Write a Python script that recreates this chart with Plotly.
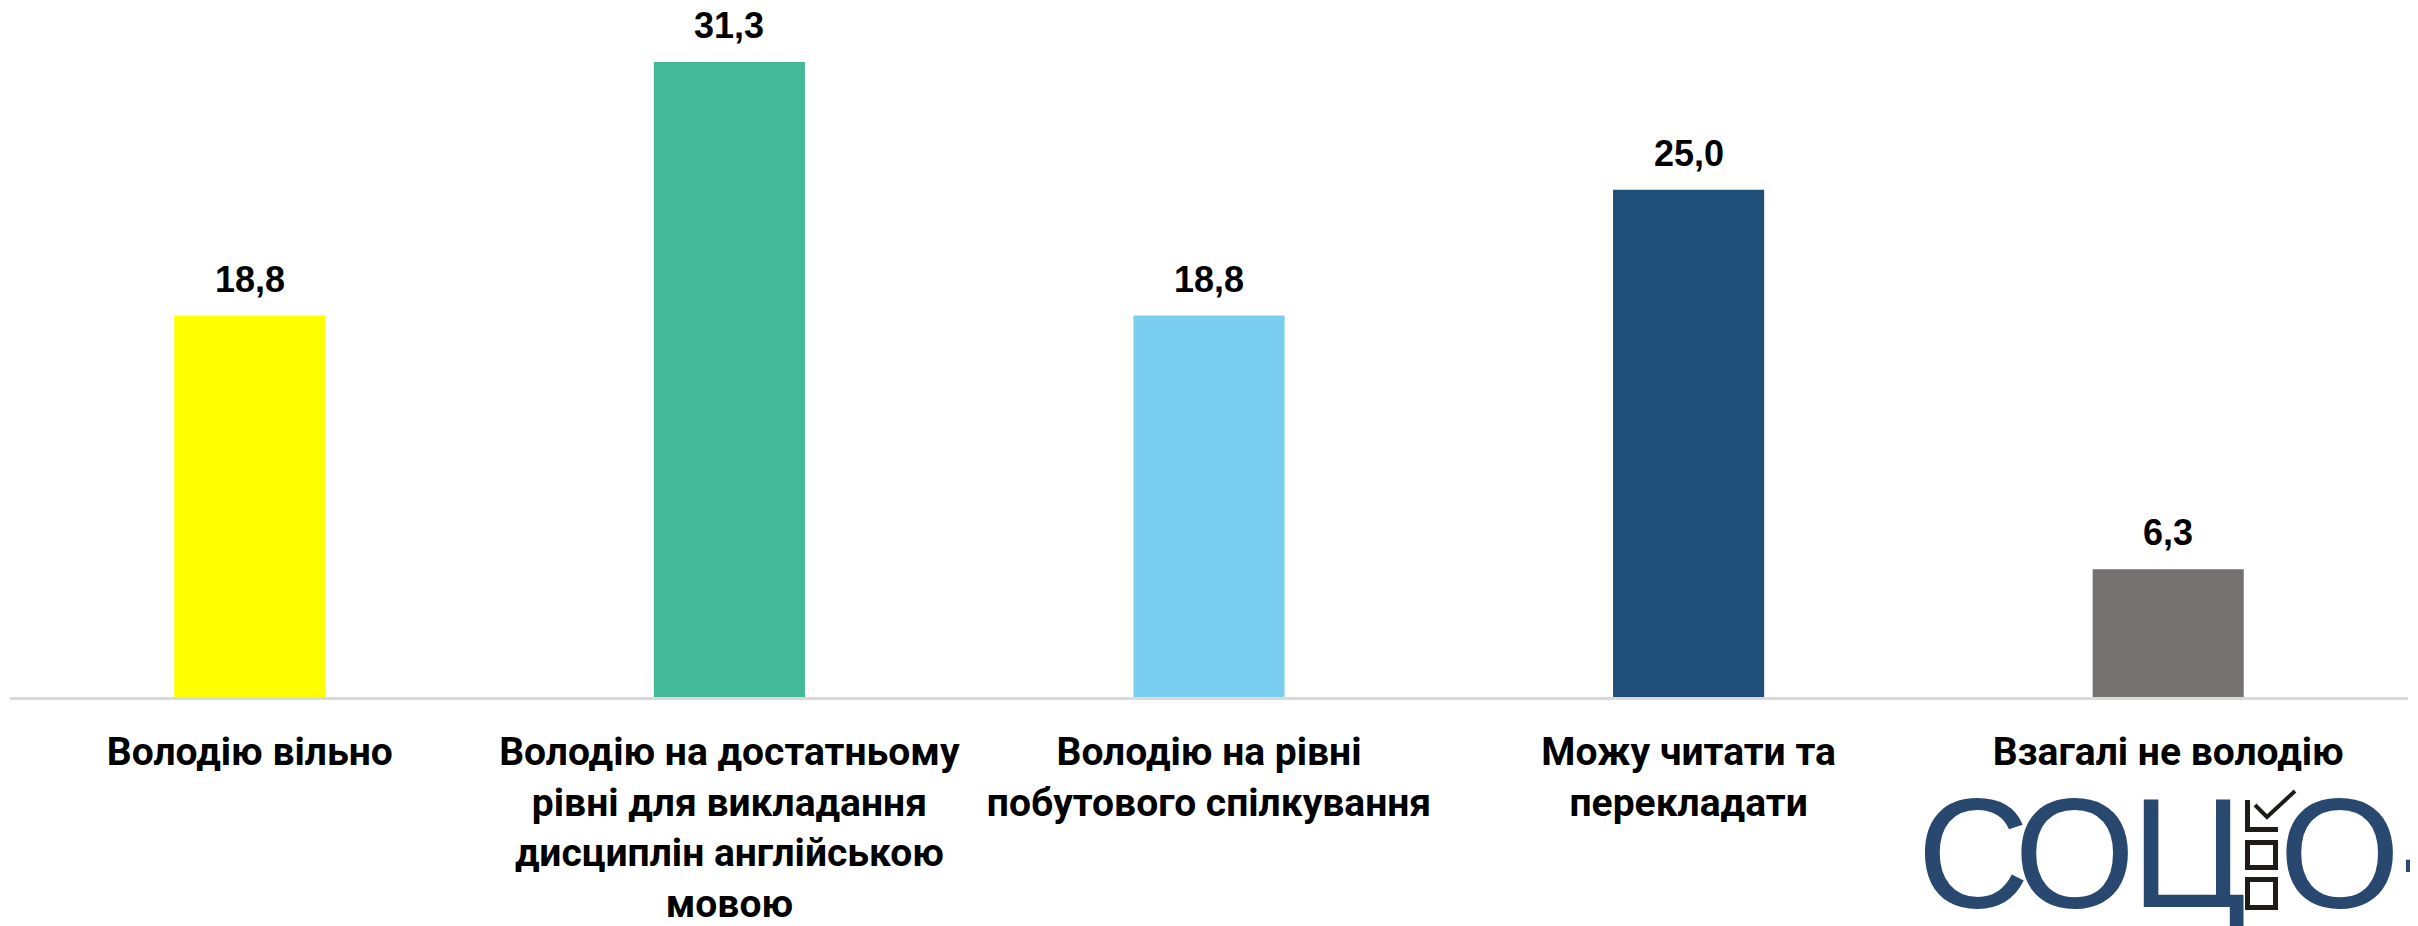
import plotly.graph_objects as go

# survey categories and shares, %
categories = [
    "Володію вільно",
    "Володію на достатньому<br>рівні для викладання<br>дисциплін англійською<br>мовою",
    "Володію на рівні<br>побутового спілкування",
    "Можу читати та<br>перекладати",
    "Взагалі не володію",
]
values = [18.8, 31.3, 18.8, 25.0, 6.3]
bar_colors = ["#FFFF00", "#43B997", "#7ACEF0", "#1F4E79", "#767171"]

# logo letters and where they sit on the page (px)
logo_letters = ["С", "О", "Ц", "О"]
logo_centers = [1973, 2074, 2188, 2339]

# page body has an 8px margin, so the figure is drawn 8px in from the corner
OFF = 8
W, H = 2418 - OFF, 926 - OFF
L, R, T, B = 2, 10, 0, 229
PW, PH = W - L - R, H - T - B

FONT = "Liberation Sans, Arial, sans-serif"
TICK_FONT = "Roboto, Liberation Sans, sans-serif"
LOGO_BLUE = "#29486F"
BOX_BLACK = "#1E1B18"


def px_x(v):
    # page pixel -> paper x
    return (v - OFF - L) / PW


def px_y(v):
    # page pixel -> paper y
    return 1 - (v - OFF - T) / PH


fig = go.Figure()

fig.add_trace(
    go.Bar(
        x=categories,
        y=values,
        marker=dict(color=bar_colors, line=dict(width=0)),
        hoverinfo="skip",
    )
)

# value labels above bars
for cat, val in zip(categories, values):
    fig.add_annotation(
        x=cat, y=val,
        text=f"<b>{val:.1f}</b>".replace(".", ","),
        showarrow=False, yanchor="bottom", yshift=14,
        font=dict(family=FONT, size=36, color="#000000"),
    )

# logo "СОЦІО-" in bottom right corner
for letter, cx in zip(logo_letters, logo_centers):
    fig.add_annotation(
        x=px_x(cx), y=px_y(853), xref="paper", yref="paper",
        xanchor="center", yanchor="middle", text=letter, showarrow=False,
        font=dict(family=FONT, size=156, color=LOGO_BLUE),
    )
fig.add_annotation(
    x=px_x(2397), y=px_y(853), xref="paper", yref="paper",
    xanchor="left", yanchor="middle", text="-", showarrow=False,
    font=dict(family=FONT, size=156, color=LOGO_BLUE),
)

# checkbox stack standing for "І"
for y0, y1 in [(842.5, 867.5), (879.5, 907.5)]:
    fig.add_shape(
        type="rect", xref="paper", yref="paper",
        x0=px_x(2247.5), x1=px_x(2275.5), y0=px_y(y1), y1=px_y(y0),
        line=dict(color=BOX_BLACK, width=5), fillcolor="white",
    )
fig.add_shape(
    type="path", xref="paper", yref="paper",
    path=(f"M {px_x(2247.5)} {px_y(800)} L {px_x(2247.5)} {px_y(829.5)} L {px_x(2278)} {px_y(829.5)}"),
    line=dict(color=BOX_BLACK, width=5),
)
fig.add_shape(
    type="path", xref="paper", yref="paper",
    path=(f"M {px_x(2255)} {px_y(805)} L {px_x(2267)} {px_y(817)} L {px_x(2295)} {px_y(791)}"),
    line=dict(color=BOX_BLACK, width=4),
)

fig.update_layout(
    width=W, height=H,
    margin=dict(l=L, r=R, t=T, b=B),
    paper_bgcolor="white",
    plot_bgcolor="white",
    bargap=0.685,
    showlegend=False,
    font=dict(family=FONT, color="#000000"),
    xaxis=dict(
        showline=True, linecolor="#D9D9D9", linewidth=3,
        showgrid=False, ticks="", ticklabelstandoff=18,
        tickfont=dict(family=TICK_FONT, size=39, color="#000000", weight="bold"),
    ),
    yaxis=dict(
        range=[0, PH / 20.29], visible=False, showgrid=False, zeroline=False,
    ),
)

fig.write_html("out.html")
